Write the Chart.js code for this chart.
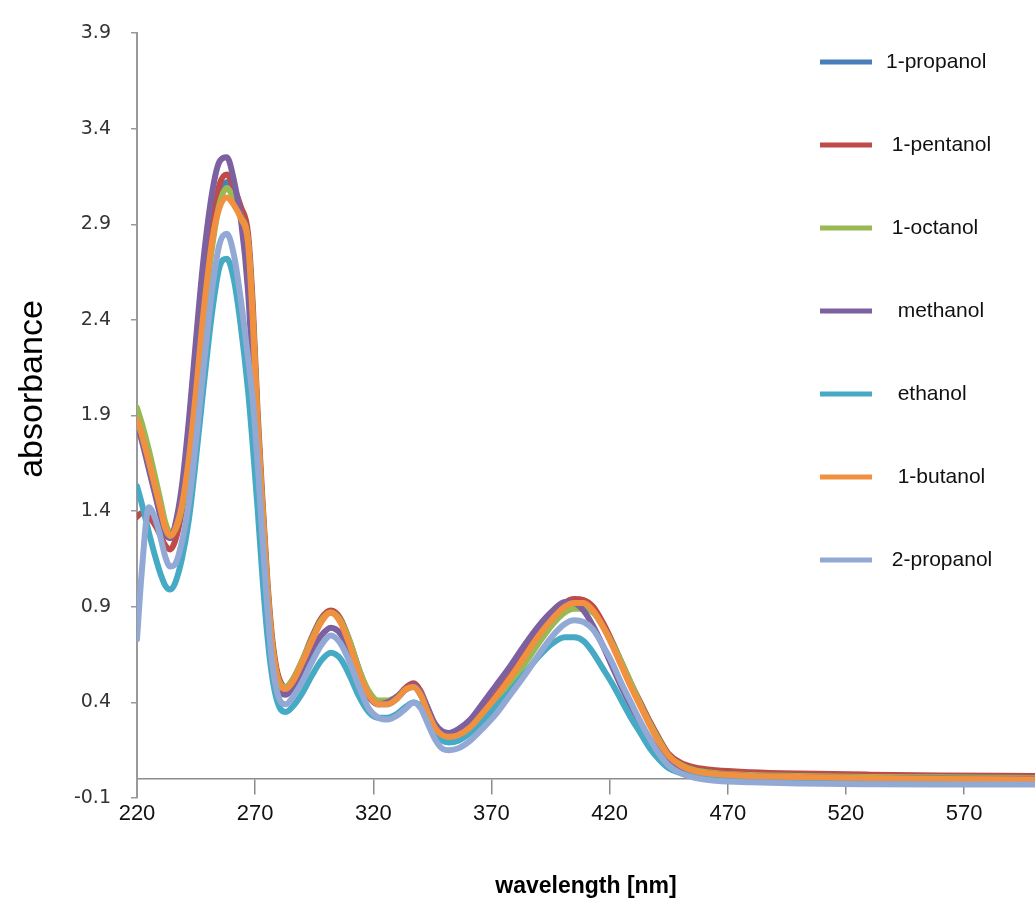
<!DOCTYPE html>
<html>
<head>
<meta charset="utf-8">
<title>absorbance spectra</title>
<script src="https://cdn.jsdelivr.net/npm/chart.js@4.4.1/dist/chart.umd.min.js"></script>
<style>
  body { margin:0; background:#fff; }
  #wrap { width:1035px; height:900px; position:relative; }
</style>
</head>
<body>
<div id="wrap"><canvas id="chart"></canvas></div>
<script>
/* ================= DATA ================= */
const wavelength = [220, 222, 225, 228, 230, 232, 234, 236, 239, 242,
  245, 248, 252, 255, 258, 261, 264, 267, 269, 271,
  273, 275, 277, 279, 281, 283, 286, 290, 294, 298,
  302, 306, 310, 314, 318, 322, 326, 330, 334, 337,
  340, 343, 346, 349, 352, 356, 361, 366, 372, 378,
  384, 390, 396, 401, 405, 409, 413, 417, 421, 425,
  429, 433, 437, 441, 445, 450, 456, 465, 480, 500,
  530, 560, 600];

const propanol1 = [1.87, 1.79, 1.65, 1.50, 1.40, 1.30, 1.26, 1.29, 1.43, 1.69,
  2.05, 2.44, 2.86, 3.05, 3.12, 3.06, 2.95, 2.82, 2.42, 1.87,
  1.44, 1.03, 0.73, 0.56, 0.49, 0.47, 0.51, 0.61, 0.73, 0.83,
  0.87, 0.83, 0.71, 0.56, 0.44, 0.39, 0.39, 0.42, 0.47, 0.48,
  0.44, 0.35, 0.27, 0.23, 0.22, 0.23, 0.27, 0.34, 0.43, 0.53,
  0.64, 0.76, 0.86, 0.92, 0.935, 0.93, 0.89, 0.81, 0.71, 0.60,
  0.49, 0.39, 0.29, 0.20, 0.12, 0.075, 0.05, 0.035, 0.025, 0.02,
  0.015, 0.012, 0.01];

const pentanol1 = [1.37, 1.39, 1.37, 1.32, 1.27, 1.22, 1.20, 1.24, 1.40, 1.66,
  2.03, 2.45, 2.90, 3.11, 3.16, 3.09, 2.99, 2.85, 2.48, 1.93,
  1.48, 1.07, 0.76, 0.58, 0.50, 0.48, 0.52, 0.62, 0.74, 0.84,
  0.88, 0.84, 0.72, 0.57, 0.45, 0.40, 0.40, 0.43, 0.48, 0.50,
  0.46, 0.37, 0.28, 0.24, 0.23, 0.24, 0.28, 0.35, 0.44, 0.54,
  0.65, 0.76, 0.86, 0.92, 0.94, 0.935, 0.90, 0.82, 0.72, 0.61,
  0.50, 0.40, 0.30, 0.21, 0.13, 0.085, 0.06, 0.045, 0.035, 0.028,
  0.022, 0.018, 0.015];

const octanol1 = [1.94, 1.86, 1.72, 1.56, 1.45, 1.34, 1.29, 1.30, 1.42, 1.66,
  2.00, 2.38, 2.80, 3.01, 3.09, 3.03, 2.94, 2.81, 2.42, 1.88,
  1.44, 1.04, 0.73, 0.56, 0.49, 0.48, 0.52, 0.62, 0.73, 0.83,
  0.87, 0.83, 0.72, 0.57, 0.46, 0.41, 0.41, 0.43, 0.47, 0.48,
  0.45, 0.37, 0.28, 0.23, 0.22, 0.22, 0.26, 0.32, 0.41, 0.50,
  0.60, 0.71, 0.81, 0.87, 0.89, 0.89, 0.87, 0.80, 0.71, 0.61,
  0.50, 0.39, 0.29, 0.20, 0.12, 0.075, 0.045, 0.03, 0.02, 0.015,
  0.01, 0.008, 0.005];

const methanol = [1.85, 1.77, 1.62, 1.47, 1.37, 1.28, 1.26, 1.32, 1.53, 1.88,
  2.30, 2.70, 3.08, 3.23, 3.25, 3.13, 2.92, 2.55, 2.12, 1.66,
  1.28, 0.93, 0.67, 0.51, 0.45, 0.44, 0.48, 0.57, 0.67, 0.75,
  0.79, 0.76, 0.66, 0.53, 0.43, 0.39, 0.40, 0.43, 0.47, 0.49,
  0.45, 0.37, 0.29, 0.25, 0.24, 0.26, 0.31, 0.39, 0.49, 0.59,
  0.70, 0.80, 0.88, 0.925, 0.92, 0.88, 0.80, 0.70, 0.59, 0.48,
  0.38, 0.29, 0.21, 0.14, 0.09, 0.055, 0.035, 0.025, 0.015, 0.01,
  0.005, 0.002, 0.0];

const ethanol = [1.53, 1.44, 1.29, 1.15, 1.07, 1.01, 0.99, 1.02, 1.15, 1.36,
  1.68, 2.03, 2.46, 2.68, 2.72, 2.61, 2.36, 2.03, 1.74, 1.42,
  1.07, 0.77, 0.55, 0.42, 0.36, 0.35, 0.38, 0.45, 0.54, 0.62,
  0.66, 0.63, 0.54, 0.43, 0.35, 0.32, 0.32, 0.34, 0.38, 0.40,
  0.38, 0.31, 0.24, 0.20, 0.19, 0.20, 0.24, 0.30, 0.38, 0.46,
  0.55, 0.64, 0.71, 0.74, 0.74, 0.72, 0.66, 0.58, 0.50, 0.41,
  0.32, 0.24, 0.16, 0.10, 0.055, 0.03, 0.012, 0.0, -0.008, -0.012,
  -0.014, -0.015, -0.015];

const butanol1 = [1.88, 1.80, 1.66, 1.51, 1.41, 1.31, 1.27, 1.30, 1.43, 1.68,
  2.03, 2.42, 2.83, 2.99, 3.04, 3.00, 2.93, 2.80, 2.40, 1.85,
  1.42, 1.02, 0.72, 0.55, 0.48, 0.47, 0.51, 0.61, 0.72, 0.82,
  0.87, 0.82, 0.70, 0.55, 0.44, 0.39, 0.39, 0.42, 0.47, 0.48,
  0.44, 0.35, 0.27, 0.23, 0.22, 0.23, 0.27, 0.34, 0.43, 0.53,
  0.64, 0.75, 0.84, 0.90, 0.92, 0.92, 0.88, 0.80, 0.70, 0.59,
  0.48, 0.38, 0.28, 0.19, 0.12, 0.07, 0.04, 0.025, 0.015, 0.01,
  0.005, 0.0, -0.003];

const propanol2 = [0.73, 1.08, 1.42, 1.35, 1.26, 1.16, 1.11, 1.12, 1.24, 1.45,
  1.77, 2.13, 2.58, 2.80, 2.85, 2.74, 2.50, 2.20, 1.98, 1.66,
  1.28, 0.92, 0.63, 0.47, 0.40, 0.39, 0.43, 0.51, 0.61, 0.70,
  0.75, 0.71, 0.61, 0.48, 0.37, 0.32, 0.31, 0.33, 0.37, 0.40,
  0.37, 0.29, 0.21, 0.16, 0.15, 0.16, 0.20, 0.26, 0.34, 0.44,
  0.54, 0.65, 0.75, 0.81, 0.83, 0.82, 0.78, 0.70, 0.61, 0.50,
  0.40, 0.30, 0.21, 0.13, 0.07, 0.03, 0.005, -0.01, -0.018, -0.024,
  -0.028, -0.03, -0.03];

const seriesNames  = ["1-propanol", " 1-pentanol", " 1-octanol", "  methanol", "  ethanol", "  1-butanol", " 2-propanol"];
const seriesValues = [propanol1, pentanol1, octanol1, methanol, ethanol, butanol1, propanol2];
const seriesColors = ["#4A7EBB", "#BE4B48", "#98B954", "#7D60A0", "#46AAC5", "#F1913F", "#93A9D5"];

const xTicks = [220, 270, 320, 370, 420, 470, 520, 570];
const yTicks = [-0.1, 0.4, 0.9, 1.4, 1.9, 2.4, 2.9, 3.4, 3.9];

/* ================= LEGEND + Y TITLE ================= */
const sideLegend = {
    id: "sideLegend",
    afterDraw(chart){
        const ctx = chart.ctx;
        ctx.save();
        ctx.textBaseline = "middle";
        ctx.font = "21px 'Liberation Sans', Arial, sans-serif";
        chart.data.datasets.forEach((ds, i) => {
            let y = 62 + i * 83;
            ctx.strokeStyle = ds.borderColor;
            ctx.lineWidth = 5;
            ctx.beginPath();
            ctx.moveTo(820, y);
            ctx.lineTo(872, y);
            ctx.stroke();
            ctx.fillStyle = "#111";
            ctx.fillText(ds.label, 886, y);
        });

        // y axis title
        ctx.translate(33, 389);
        ctx.rotate(-Math.PI / 2);
        ctx.textAlign = "center";
        ctx.font = "34px 'Liberation Sans', Arial, sans-serif";
        ctx.fillStyle = "#000";
        ctx.fillText("absorbance", 0, 0);
        ctx.restore();
    }
};

/* ================= CHART ================= */
const datasets = seriesValues.map((vals, i) => ({
    label: seriesNames[i],
    data: wavelength.map((w, k) => ({ x: w, y: vals[k] })),
    borderColor: seriesColors[i],
    backgroundColor: seriesColors[i],
    borderWidth: 6,
    pointRadius: 0,
    cubicInterpolationMode: "monotone",
    borderCapStyle: "round",
    borderJoinStyle: "round",
    order: seriesValues.length - i
}));

new Chart(document.getElementById("chart"), {
    type: "line",
    data: { datasets: datasets },
    options: {
        responsive: true,
        maintainAspectRatio: false,
        animation: false,
        devicePixelRatio: 1,
        layout: { padding: { top: 33, right: 0, bottom: 102, left: 0 } },
        plugins: {
            legend: { display: false },
            tooltip: { enabled: false }
        },
        scales: {
            x: {
                type: "linear",
                position: { y: 0 },
                min: 220,
                max: 600,
                afterBuildTicks: s => { s.ticks = xTicks.map(v => ({ value: v })); },
                border: { display: true, color: "#8c8c8c", width: 1.5 },
                grid: { drawOnChartArea: false, drawTicks: true, tickLength: 15, color: "#8c8c8c", lineWidth: 1.5 },
                ticks: {
                    padding: 7,
                    color: "#111",
                    font: { family: "'Liberation Sans', Arial, sans-serif", size: 22 },
                    callback: v => String(v)
                },
                title: {
                    display: true,
                    text: "wavelength [nm]",
                    color: "#000",
                    padding: { top: 39, bottom: 0 },
                    font: { family: "'Liberation Sans', Arial, sans-serif", size: 23, weight: "bold" }
                }
            },
            y: {
                min: -0.1,
                max: 3.9,
                afterBuildTicks: s => { s.ticks = yTicks.map(v => ({ value: v })); },
                afterFit: s => { s.width = 137; },
                border: { display: true, color: "#9a9a9a", width: 2 },
                grid: { drawOnChartArea: false, drawTicks: true, tickLength: 6, color: "#9a9a9a", lineWidth: 1.5 },
                ticks: {
                    padding: 20,
                    color: "#333",
                    font: { family: "'DejaVu Sans', Verdana, sans-serif", size: 19 },
                    callback: v => v.toFixed(1)
                }
            }
        }
    },
    plugins: [sideLegend]
});
</script>
</body>
</html>
